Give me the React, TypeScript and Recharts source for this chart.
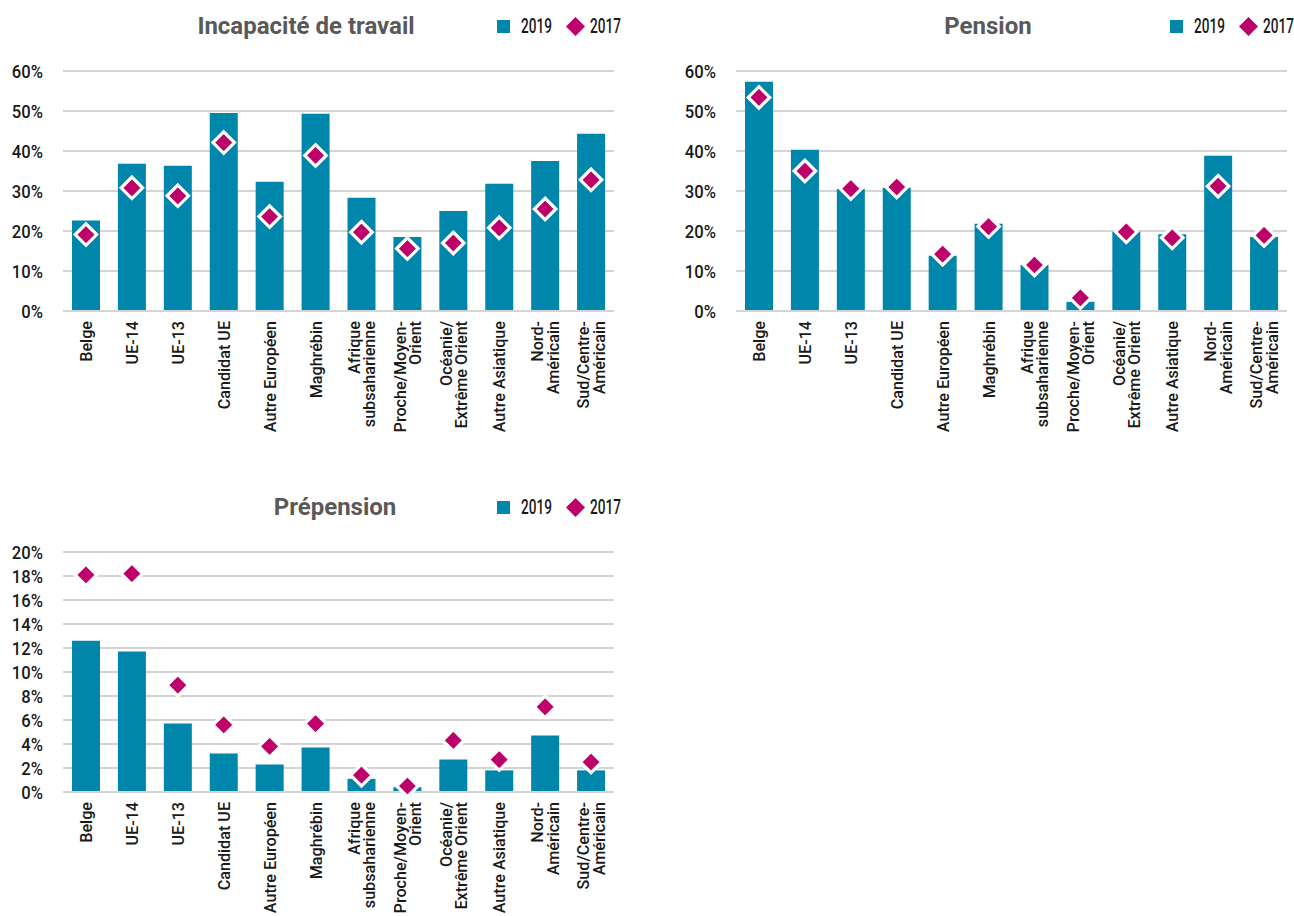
import React from "react";
import {
  ComposedChart,
  Bar,
  Scatter,
  XAxis,
  YAxis,
  CartesianGrid,
} from "recharts";

const categories = [
  "Belge",
  "UE-14",
  "UE-13",
  "Candidat UE",
  "Autre Européen",
  "Maghrébin",
  "Afrique\nsubsaharienne",
  "Proche/Moyen-\nOrient",
  "Océanie/\nExtrême Orient",
  "Autre Asiatique",
  "Nord-\nAméricain",
  "Sud/Centre-\nAméricain",
];

// Incapacité de travail
const incapacite2019 = [22.6, 36.8, 36.3, 49.5, 32.3, 49.3, 28.3, 18.5, 25.0, 31.8, 37.5, 44.3];
const incapacite2017 = [19.1, 30.8, 28.8, 42.1, 23.6, 38.9, 19.7, 15.6, 17.0, 20.8, 25.5, 32.8];

// Pension
const pension2019 = [57.3, 40.3, 30.5, 30.8, 13.8, 21.8, 11.5, 2.3, 19.8, 19.2, 38.8, 18.5];
const pension2017 = [53.4, 35.0, 30.6, 31.0, 14.2, 21.1, 11.5, 3.3, 19.8, 18.3, 31.2, 18.9];

// Prépension
const prepension2019 = [12.6, 11.7, 5.7, 3.2, 2.3, 3.7, 1.1, 0.4, 2.7, 1.8, 4.7, 1.8];
const prepension2017 = [18.1, 18.2, 8.9, 5.6, 3.8, 5.7, 1.4, 0.5, 4.3, 2.7, 7.1, 2.5];

const ticks60 = [0, 10, 20, 30, 40, 50, 60];
const ticks20 = [0, 2, 4, 6, 8, 10, 12, 14, 16, 18, 20];

const BLUE = "#0085AB";
const MAGENTA = "#BE006A";
const GRID = "#d4d4d4";
const TEXT = "#1a1a1a";
const FONT = "Roboto, sans-serif";

// plot area inside each panel
const PLOT_LEFT = 63;
const PLOT_WIDTH = 551;

const Diamond = (props: any) => {
  const { cx, cy } = props;
  if (cx == null || cy == null) return null;
  const r = 10.75;
  return (
    <polygon
      points={`${cx},${cy - r} ${cx + r},${cy} ${cx},${cy + r} ${cx - r},${cy}`}
      fill={MAGENTA}
      stroke="#fff"
      strokeWidth={3.2}
    />
  );
};

const PercentTick = (props: any) => {
  const { x, y, payload } = props;
  return (
    <g transform={`translate(${x - 12},${y})`}>
      <text
        transform="scale(0.9,1)"
        textAnchor="end"
        dy="0.36em"
        fontFamily={FONT}
        fontWeight={500}
        fontSize={18.5}
        fill={TEXT}
      >
        {`${payload.value}%`}
      </text>
    </g>
  );
};

const CategoryTick = (props: any) => {
  const { x, y, payload } = props;
  const lines = String(payload.value).split("\n");
  const lh = 15.5;
  const first = -((lines.length - 1) * lh) / 2 + 6;
  return (
    <g transform={`translate(${x},${y + 2})`}>
      <text
        transform="rotate(-90) scale(0.95,1)"
        textAnchor="end"
        fontFamily={FONT}
        fontWeight={500}
        fontSize={17}
        fill={TEXT}
      >
        {lines.map((l, i) => (
          <tspan key={i} x={0} dy={i === 0 ? first : lh}>
            {l}
          </tspan>
        ))}
      </text>
    </g>
  );
};

const legendText: React.CSSProperties = {
  position: "absolute",
  top: -12,
  fontFamily: FONT,
  fontWeight: 500,
  fontSize: 20,
  lineHeight: "24px",
  color: TEXT,
  transform: "scaleX(0.68)",
  transformOrigin: "left center",
  whiteSpace: "nowrap",
};

const LegendBox = ({ left, top }: { left: number; top: number }) => (
  <div style={{ position: "absolute", left, top, width: 130, height: 0 }}>
    <span
      style={{ position: "absolute", left: 0, top: -6.5, width: 13, height: 13, background: BLUE }}
    />
    <span style={{ ...legendText, left: 24 }}>2019</span>
    <svg width={19} height={19} style={{ position: "absolute", left: 69, top: -9.5 }}>
      <polygon points="9.5,0 19,9.5 9.5,19 0,9.5" fill={MAGENTA} />
    </svg>
    <span style={{ ...legendText, left: 93 }}>2017</span>
  </div>
);

interface PanelProps {
  title: string;
  titleCenter: number;
  left: number;
  top: number;
  values2019: number[];
  values2017: number[];
  ticks: number[];
}

const Panel = ({ title, titleCenter, left, top, values2019, values2017, ticks }: PanelProps) => {
  const data = categories.map((c, i) => ({
    name: c,
    v2019: values2019[i],
    v2017: values2017[i],
  }));
  const max = ticks[ticks.length - 1];
  const width = PLOT_LEFT + PLOT_WIDTH + 8;
  return (
    <>
      <div
        style={{
          position: "absolute",
          left: left + titleCenter - 150,
          width: 300,
          top: top + 26 - 15,
          lineHeight: "30px",
          textAlign: "center",
          fontFamily: FONT,
          fontWeight: 700,
          fontSize: 24,
          color: "#595959",
        }}
      >
        {title}
      </div>
      <LegendBox left={left + 497} top={top + 26} />
      <div style={{ position: "absolute", left, top }}>
        <ComposedChart
          width={width}
          height={471}
          data={data}
          margin={{ top: 71, right: 8, left: 12, bottom: 0 }}
        >
          <CartesianGrid vertical={false} stroke={GRID} strokeWidth={2} />
          <XAxis
            dataKey="name"
            interval={0}
            tick={<CategoryTick />}
            tickLine={false}
            axisLine={{ stroke: GRID, strokeWidth: 2 }}
            height={160}
          />
          <YAxis
            domain={[0, max]}
            ticks={ticks}
            interval={0}
            width={PLOT_LEFT - 12}
            tickLine={false}
            axisLine={false}
            tick={<PercentTick />}
          />
          <Bar dataKey="v2019" fill={BLUE} barSize={28} isAnimationActive={false} />
          <Scatter dataKey="v2017" shape={<Diamond />} isAnimationActive={false} />
        </ComposedChart>
      </div>
    </>
  );
};

export default function App() {
  return (
    <div
      style={{
        position: "absolute",
        left: 0,
        top: 0,
        width: 1294,
        height: 916,
        background: "#fff",
        overflow: "hidden",
      }}
    >
      <Panel
        title="Incapacité de travail"
        titleCenter={306}
        left={0}
        top={0}
        values2019={incapacite2019}
        values2017={incapacite2017}
        ticks={ticks60}
      />
      <Panel
        title="Pension"
        titleCenter={315}
        left={673}
        top={0}
        values2019={pension2019}
        values2017={pension2017}
        ticks={ticks60}
      />
      <Panel
        title="Prépension"
        titleCenter={335}
        left={0}
        top={481}
        values2019={prepension2019}
        values2017={prepension2017}
        ticks={ticks20}
      />
    </div>
  );
}
